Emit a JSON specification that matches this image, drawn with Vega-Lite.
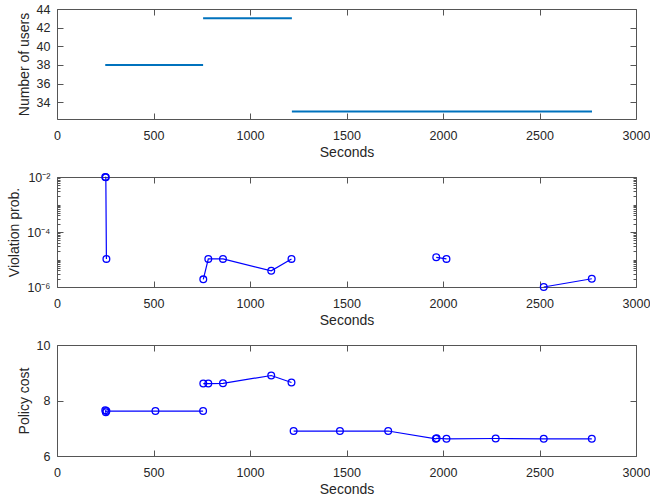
{
  "$schema": "https://vega.github.io/schema/vega-lite/v6.json",
  "padding": {"left": 7, "top": 2, "right": 5, "bottom": 2},
  "background": "white",
  "config": {
    "font": "Liberation Sans",
    "view": {"stroke": "#555555", "strokeWidth": 1},
    "axis": {
      "labelFont": "Liberation Sans", "labelFontSize": 12.5, "labelColor": "#262626",
      "titleFont": "Liberation Sans", "titleFontSize": 14, "titleFontWeight": "normal", "titleColor": "#262626",
      "domain": false, "grid": false, "tickColor": "#555555", "tickSize": -6, "tickWidth": 1,
      "labelPadding": 13, "titlePadding": 5, "labelFlush": false, "labelOverlap": false
    },
    "axisX": {"titlePadding": 4, "labelPadding": 16}
  },
  "datasets": {
    "users": [
      {"start": 250, "end": 757, "users": 38},
      {"start": 757, "end": 1217, "users": 43},
      {"start": 1217, "end": 2772, "users": 33}
    ],
    "viol": [
      {"t": 250, "p": 0.0101, "seg": 1},
      {"t": 253, "p": 0.0097, "seg": 1},
      {"t": 256, "p": 0.0000105, "seg": 1},
      {"t": 758, "p": 0.0000019, "seg": 2},
      {"t": 784, "p": 0.0000105, "seg": 2},
      {"t": 860, "p": 0.0000105, "seg": 2},
      {"t": 1110, "p": 0.0000039, "seg": 2},
      {"t": 1215, "p": 0.0000105, "seg": 2},
      {"t": 1965, "p": 0.000012, "seg": 3},
      {"t": 2018, "p": 0.0000105, "seg": 3},
      {"t": 2522, "p": 0.000001, "seg": 4},
      {"t": 2771, "p": 0.000002, "seg": 4}
    ],
    "cost": [
      {"t": 250, "c": 7.65, "seg": 1},
      {"t": 253, "c": 7.58, "seg": 1},
      {"t": 256, "c": 7.62, "seg": 1},
      {"t": 510, "c": 7.62, "seg": 1},
      {"t": 757, "c": 7.62, "seg": 1},
      {"t": 758, "c": 8.61, "seg": 2},
      {"t": 784, "c": 8.61, "seg": 2},
      {"t": 860, "c": 8.62, "seg": 2},
      {"t": 1110, "c": 8.9, "seg": 2},
      {"t": 1215, "c": 8.65, "seg": 2},
      {"t": 1226, "c": 6.9, "seg": 3},
      {"t": 1466, "c": 6.9, "seg": 3},
      {"t": 1716, "c": 6.9, "seg": 3},
      {"t": 1963, "c": 6.62, "seg": 3},
      {"t": 1967, "c": 6.64, "seg": 3},
      {"t": 2018, "c": 6.62, "seg": 3},
      {"t": 2273, "c": 6.63, "seg": 3},
      {"t": 2522, "c": 6.62, "seg": 3},
      {"t": 2771, "c": 6.62, "seg": 3}
    ]
  },
  "bounds": "flush",
  "spacing": 58,
  "vconcat": [
    {
      "width": 579, "height": 110,
      "data": {"name": "users"},
      "layer": [
        {
          "mark": {"type": "rule", "color": "#0072BD", "strokeWidth": 2},
          "encoding": {
            "x": {"field": "start", "type": "quantitative", "scale": {"domain": [0, 3000], "nice": false}, "axis": {"orient": "bottom", "values": [0, 500, 1000, 1500, 2000, 2500, 3000], "format": "d", "title": "Seconds"}},
            "x2": {"field": "end"},
            "y": {"field": "users", "type": "quantitative", "scale": {"domain": [32.2, 44], "nice": false, "zero": false}, "axis": {"orient": "left", "values": [34, 36, 38, 40, 42, 44], "title": "Number of users", "labelBaseline": "middle"}}
          }
        },
        {
          "mark": {"type": "rule", "opacity": 0},
          "encoding": {
            "x": {"field": "start", "type": "quantitative", "scale": {"domain": [0, 3000], "nice": false}, "axis": {"orient": "top", "values": [0, 500, 1000, 1500, 2000, 2500, 3000], "labels": false, "title": null}},
            "x2": {"field": "end"},
            "y": {"field": "users", "type": "quantitative", "scale": {"domain": [32.2, 44], "nice": false, "zero": false}, "axis": {"orient": "right", "values": [34, 36, 38, 40, 42, 44], "labels": false, "title": null}}
          }
        }
      ],
      "resolve": {"axis": {"x": "independent", "y": "independent"}}
    },
    {
      "width": 579, "height": 110,
      "data": {"name": "viol"},
      "layer": [
        {
          "mark": {"type": "line", "color": "#0000FF", "strokeWidth": 1.2, "point": {"shape": "circle", "filled": false, "size": 45, "strokeWidth": 1.3, "color": "#0000FF"}},
          "encoding": {
            "x": {"field": "t", "type": "quantitative", "scale": {"domain": [0, 3000], "nice": false}, "axis": {"orient": "bottom", "values": [0, 500, 1000, 1500, 2000, 2500, 3000], "format": "d", "title": "Seconds"}},
            "y": {"field": "p", "type": "quantitative", "scale": {"type": "log", "domain": [0.000001, 0.01], "nice": false}, "axis": {"orient": "left", "values": [0.000001, 0.000002, 0.000003, 0.000004, 0.000005, 0.000006, 0.000007, 0.000008, 0.000009, 0.00001, 0.00002, 0.00003, 0.00004, 0.00005, 0.00006, 0.00007, 0.00008, 0.00009, 0.0001, 0.0002, 0.0003, 0.0004, 0.0005, 0.0006, 0.0007, 0.0008, 0.0009, 0.001, 0.002, 0.003, 0.004, 0.005, 0.006, 0.007, 0.008, 0.009, 0.01], "labelExpr": "datum.value == 0.01 ? '10⁻²' : datum.value == 0.0001 ? '10⁻⁴' : datum.value == 0.000001 ? '10⁻⁶' : ''", "tickSize": {"condition": {"test": "indexof([0.01, 0.0001, 0.000001], datum.value) >= 0", "value": -6}, "value": -3}, "title": "Violation prob.", "labelBaseline": "middle"}},
            "detail": {"field": "seg", "type": "nominal"}
          }
        },
        {
          "mark": {"type": "line", "opacity": 0},
          "encoding": {
            "x": {"field": "t", "type": "quantitative", "scale": {"domain": [0, 3000], "nice": false}, "axis": {"orient": "top", "values": [0, 500, 1000, 1500, 2000, 2500, 3000], "labels": false, "title": null}},
            "y": {"field": "p", "type": "quantitative", "scale": {"type": "log", "domain": [0.000001, 0.01], "nice": false}, "axis": {"orient": "right", "values": [0.000001, 0.000002, 0.000003, 0.000004, 0.000005, 0.000006, 0.000007, 0.000008, 0.000009, 0.00001, 0.00002, 0.00003, 0.00004, 0.00005, 0.00006, 0.00007, 0.00008, 0.00009, 0.0001, 0.0002, 0.0003, 0.0004, 0.0005, 0.0006, 0.0007, 0.0008, 0.0009, 0.001, 0.002, 0.003, 0.004, 0.005, 0.006, 0.007, 0.008, 0.009, 0.01], "tickSize": {"condition": {"test": "indexof([0.01, 0.0001, 0.000001], datum.value) >= 0", "value": -6}, "value": -3}, "labels": false, "title": null}},
            "detail": {"field": "seg", "type": "nominal"}
          }
        }
      ],
      "resolve": {"axis": {"x": "independent", "y": "independent"}}
    },
    {
      "width": 579, "height": 111,
      "data": {"name": "cost"},
      "layer": [
        {
          "mark": {"type": "line", "color": "#0000FF", "strokeWidth": 1.2, "point": {"shape": "circle", "filled": false, "size": 45, "strokeWidth": 1.3, "color": "#0000FF"}},
          "encoding": {
            "x": {"field": "t", "type": "quantitative", "scale": {"domain": [0, 3000], "nice": false}, "axis": {"orient": "bottom", "values": [0, 500, 1000, 1500, 2000, 2500, 3000], "format": "d", "title": "Seconds"}},
            "y": {"field": "c", "type": "quantitative", "scale": {"domain": [6, 10], "nice": false, "zero": false}, "axis": {"orient": "left", "values": [6, 8, 10], "title": "Policy cost", "labelBaseline": "middle"}},
            "detail": {"field": "seg", "type": "nominal"}
          }
        },
        {
          "mark": {"type": "line", "opacity": 0},
          "encoding": {
            "x": {"field": "t", "type": "quantitative", "scale": {"domain": [0, 3000], "nice": false}, "axis": {"orient": "top", "values": [0, 500, 1000, 1500, 2000, 2500, 3000], "labels": false, "title": null}},
            "y": {"field": "c", "type": "quantitative", "scale": {"domain": [6, 10], "nice": false, "zero": false}, "axis": {"orient": "right", "values": [6, 8, 10], "labels": false, "title": null}},
            "detail": {"field": "seg", "type": "nominal"}
          }
        }
      ],
      "resolve": {"axis": {"x": "independent", "y": "independent"}}
    }
  ]
}
